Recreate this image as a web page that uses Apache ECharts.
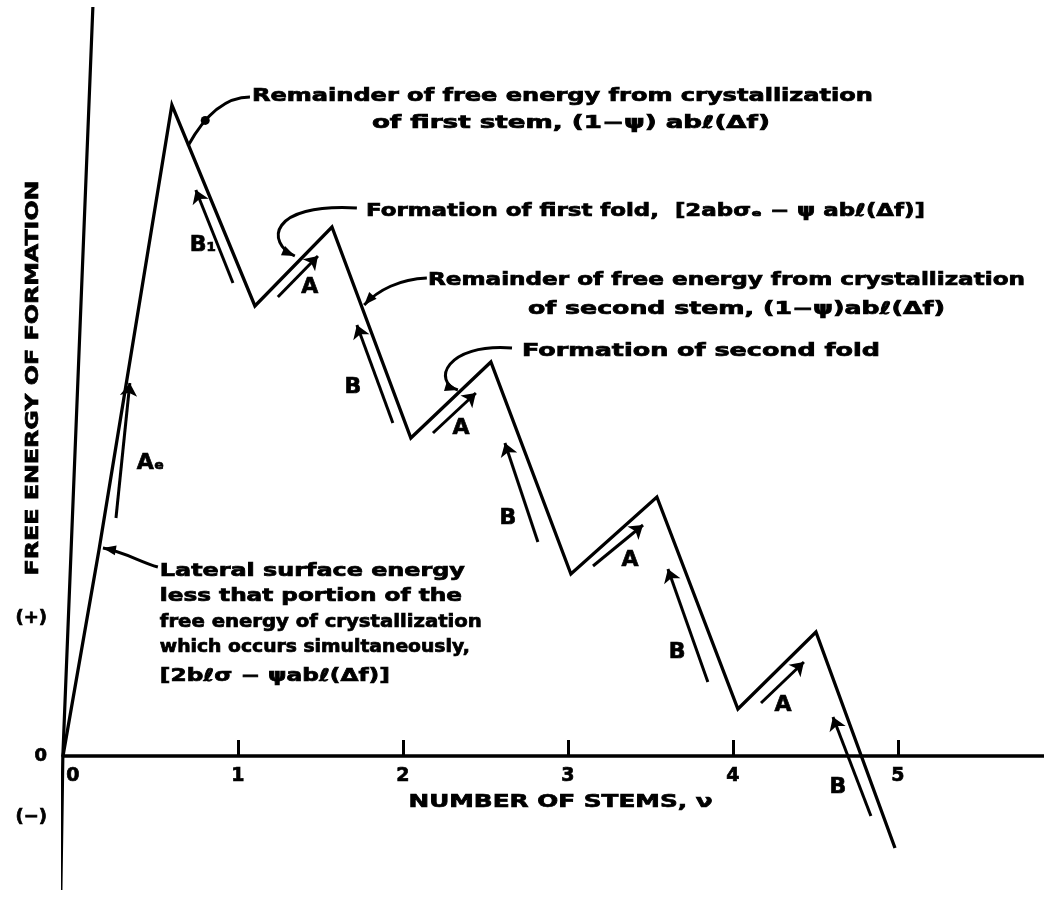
<!DOCTYPE html>
<html><head><meta charset="utf-8">
<script src="https://cdn.jsdelivr.net/npm/echarts@6/dist/echarts.min.js"></script>
<style>html,body{margin:0;padding:0;background:#fff}#c{width:1044px;height:897px}</style>
</head><body><div id="c"></div>
<script>
// ---- data (chart units: x = number of stems, y = free energy, arbitrary units) ----
const xTickValues = [1, 2, 3, 4, 5];
const xLabelValues = [0, 1, 2, 3, 4, 5];
const xTickLabels = ['0', '1', '2', '3', '4', '5'];
const yTickValues = [-0.61, 0, 1.38];
const yTickLabels = ['(−)', '0', '(+)'];

const stemX   = [-0.06, 0.158, 0.600, 1.103, 1.570, 2.048, 2.533, 3.018, 3.539, 4.030, 4.503, 4.982];
const energyY = [0.00,  2.06,  6.51,  4.50,  5.29,  3.18,  3.94,  1.82,  2.59,  0.47,  1.24, -0.92];

const yAxisLineX = [0.121, -0.061, -0.073];
const yAxisLineY = [7.49, 0, -1.34];

const stepNames = ['Aₑ', 'B₁', 'A', 'B', 'A', 'B', 'A', 'B', 'A', 'B'];
const stepFromX = [0.261, 0.970, 1.242, 1.939, 2.182, 2.818, 3.152, 3.848, 4.170, 4.836];
const stepFromY = [2.38, 4.73, 4.59, 3.33, 3.23, 2.14, 1.90, 0.74, 0.53, -0.60];
const stepToX   = [0.345, 0.745, 1.485, 1.721, 2.442, 2.618, 3.455, 3.606, 4.430, 4.606];
const stepToY   = [3.73, 5.66, 5.00, 4.31, 3.63, 3.13, 2.31, 1.87, 0.94, 0.39];
const stepLabelX = [0.470, 0.788, 1.436, 1.697, 2.352, 2.636, 3.376, 3.661, 4.303, 4.636];
const stepLabelY = [2.93, 5.11, 4.69, 3.69, 3.28, 2.38, 1.96, 1.04, 0.51, -0.31];

const noteTexts = [
  'Remainder of free energy from crystallization',
  'of first stem, (1−ψ) abℓ(Δf)',
  'Formation of first fold,  [2abσₑ − ψ abℓ(Δf)]',
  'Remainder of free energy from crystallization',
  'of second stem, (1−ψ)abℓ(Δf)',
  'Formation of second fold',
  'Lateral surface energy',
  'less that portion of the',
  'free energy of crystallization',
  'which occurs simultaneously,',
  '[2bℓσ − ψabℓ(Δf)]'
];
const xTitle = 'NUMBER OF STEMS, ν';
const yTitle = 'FREE ENERGY OF FORMATION';

// ---- layout (chart units) for annotations ----
const noteLayout = [
  {x: 1.085, y: 6.59, w: 621},
  {x: 1.812, y: 6.32, w: 398},
  {x: 1.776, y: 5.44, w: 559},
  {x: 2.152, y: 4.75, w: 597},
  {x: 2.758, y: 4.46, w: 417},
  {x: 2.721, y: 4.04, w: 358},
  {x: 0.527, y: 1.84, w: 305},
  {x: 0.527, y: 1.59, w: 302},
  {x: 0.527, y: 1.33, w: 322},
  {x: 0.527, y: 1.08, w: 310},
  {x: 0.527, y: 0.79, w: 230}
];
// leaders: start, cp1, cp2, end
const leaders = [
  {p: [[1.073, 6.59], [0.921, 6.59], [0.800, 6.41], [0.697, 6.10]], dot: 0.68},
  {p: [[1.721, 5.48], [1.182, 5.53], [1.170, 5.13], [1.345, 5.00]]},
  {p: [[2.145, 4.78], [1.982, 4.77], [1.848, 4.66], [1.765, 4.51]]},
  {p: [[2.661, 4.08], [2.255, 4.13], [2.176, 3.74], [2.333, 3.66]]},
  {p: [[0.515, 1.89], [0.406, 1.94], [0.315, 2.04], [0.182, 2.08]]}
];

const FONT = '"DejaVu Sans", "Liberation Sans", sans-serif';
const chart = echarts.init(document.getElementById('c'), null, {renderer: 'canvas'});

const zig = stemX.map((x, i) => [x, energyY[i]]);
const yLine = yAxisLineX.map((x, i) => [x, yAxisLineY[i]]);
const steps = stepFromX.map((x, i) => ({coords: [[x, stepFromY[i]], [stepToX[i], stepToY[i]]]}));

chart.setOption({
  animation: false,
  backgroundColor: '#fff',
  grid: {left: 63, right: 0, top: 0, bottom: 141, containLabel: false, outerBoundsMode: 'none'},
  xAxis: {
    type: 'value', min: -0.06, max: 5.885,
    axisLine: {onZero: false, lineStyle: {color: '#000', width: 3.5}},
    axisTick: {show: true, inside: true, length: 16, customValues: xTickValues, lineStyle: {color: '#000', width: 3}},
    axisLabel: {
      customValues: xLabelValues, margin: 11, color: '#000', fontSize: 19, fontWeight: 'bold', fontFamily: FONT,
      textBorderColor: '#000', textBorderWidth: 0.7,
      formatter: v => xTickLabels[xLabelValues.indexOf(Math.round(v))]
    },
    splitLine: {show: false}
  },
  yAxis: {
    type: 'value', min: 0, max: 7.56,
    axisLine: {show: false}, axisTick: {show: false}, axisLabel: {show: false}, splitLine: {show: false}
  },
  series: [
    {type: 'line', data: yLine, symbol: 'none', clip: false, lineStyle: {color: '#000', width: 3.2}, z: 3},
    {type: 'line', data: zig, symbol: 'none', clip: false, lineStyle: {color: '#000', width: 3.3, join: 'miter'}, z: 4},
    {type: 'lines', coordinateSystem: 'cartesian2d', data: steps, clip: false, symbol: ['none', 'arrow'], symbolSize: [9, 13],
      lineStyle: {color: '#000', width: 3, opacity: 1, curveness: 0}, z: 5}
  ]
});

// ---- annotations (text + leaders) placed through the chart's own coordinate conversion ----
const ctx = document.createElement('canvas').getContext('2d');
function measure(text, size) { ctx.font = 'bold ' + size + 'px ' + FONT; return ctx.measureText(text).width; }
const px = p => chart.convertToPixel({gridIndex: 0}, p);
function headPts(tip, from, len, half) {
  const dx = tip[0] - from[0], dy = tip[1] - from[1], L = Math.hypot(dx, dy) || 1;
  const ux = dx / L, uy = dy / L;
  const bx = tip[0] - ux * len, by = tip[1] - uy * len;
  return [tip, [bx - uy * half, by + ux * half], [bx + uy * half, by - ux * half]];
}
function bez(q, t) {
  const u = 1 - t;
  return [0, 1].map(k => u*u*u*q[0][k] + 3*u*u*t*q[1][k] + 3*u*t*t*q[2][k] + t*t*t*q[3][k]);
}
const txt = (x, y, text, size, extra) => Object.assign({type: 'text', x: x, y: y, z: 10,
  style: {text: text, fontSize: size, fontWeight: 'bold', fontFamily: FONT, fill: '#000',
    stroke: '#000', lineWidth: 0.7, align: 'left', verticalAlign: 'middle'}}, extra || {});
const g = [];
const NOTE_SIZE = 17;
noteTexts.forEach((t, i) => {
  const L = noteLayout[i]; const p = px([L.x, L.y]);
  g.push(txt(p[0], p[1], t, NOTE_SIZE, {scaleX: L.w / measure(t, NOTE_SIZE)}));
});
// step labels
stepNames.forEach((n, i) => {
  const p = px([stepLabelX[i], stepLabelY[i]]);
  const e = txt(p[0], p[1], n, 22);
  e.style.align = 'center';
  g.push(e);
});
// y tick labels
yTickValues.forEach((v, i) => {
  const p = px([-0.06, v]);
  const e = txt(p[0] - 16, p[1], yTickLabels[i], 18);
  e.style.align = 'right';
  g.push(e);
});
// axis titles
(function () {
  const c = px([2.955, -0.46]);
  const e = txt(c[0], c[1], xTitle, 18, {scaleX: 304 / measure(xTitle, 18)});
  e.style.align = 'center'; g.push(e);
  const cy = px([-0.242, 3.78]);
  const e2 = txt(cy[0], cy[1], yTitle, 18, {rotation: Math.PI / 2, scaleX: 395 / measure(yTitle, 18)});
  e2.style.align = 'center'; g.push(e2);
})();
leaders.forEach(l => {
  const q = l.p.map(px);
  g.push({type: 'bezierCurve', z: 9,
    shape: {x1: q[0][0], y1: q[0][1], cpx1: q[1][0], cpy1: q[1][1], cpx2: q[2][0], cpy2: q[2][1], x2: q[3][0], y2: q[3][1]},
    style: {stroke: '#000', lineWidth: 3, fill: null}});
  if (l.dot) {
    const d = bez(q, l.dot);
    g.push({type: 'circle', z: 9, shape: {cx: d[0], cy: d[1], r: 4.5}, style: {fill: '#000'}});
  } else {
    g.push({type: 'polygon', z: 9, shape: {points: headPts(q[3], q[2], 13, 5)}, style: {fill: '#000'}});
  }
});
chart.setOption({graphic: g});
</script>
</body></html>
